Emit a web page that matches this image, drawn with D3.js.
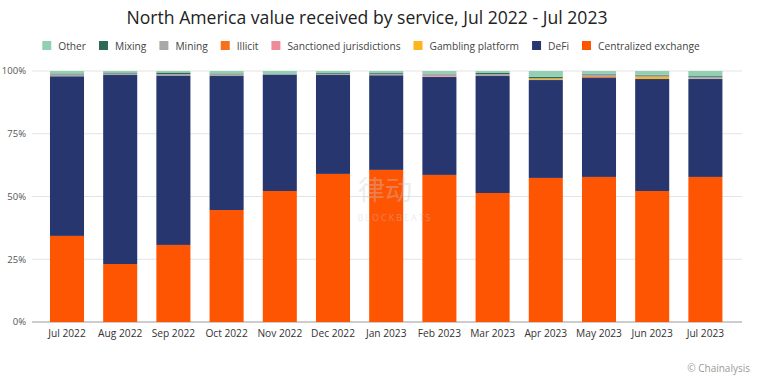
<!DOCTYPE html>
<html>
<head>
<meta charset="utf-8">
<script src="https://cdn.jsdelivr.net/npm/d3@7"></script>
<style>
  body{margin:0;background:#fff;}
  text{font-family:"Open Sans","DejaVu Sans",sans-serif;}
</style>
</head>
<body>
<div id="chart"></div>
<script>
// months on the x axis
var months=['Jul 2022','Aug 2022','Sep 2022','Oct 2022','Nov 2022','Dec 2022','Jan 2023',
            'Feb 2023','Mar 2023','Apr 2023','May 2023','Jun 2023','Jul 2023'];
// share of value received, percent
var centralized=[34.3,23.1,30.7,44.6,52.2,59.0,60.6,58.6,51.4,57.4,57.8,52.2,57.8];
var defi       =[63.6,75.3,67.5,53.4,46.3,39.4,37.7,39.0,46.6,39.0,39.4,44.6,39.0];
var gambling   =[0,   0,   0,   0,   0,   0,   0,   0,   0,   0.5, 0,   0.8, 0.1];
var sanctioned =[0,   0,   0,   0,   0,   0,   0,   0.3, 0,   0,   0,   0,   0];
var illicit    =[0,   0,   0,   0,   0,   0,   0,   0,   0,   0,   0.4, 0,   0];
var mining     =[0.8, 0.6, 0.6, 0.7, 0.2, 0.5, 0.6, 1.0, 0.8, 0.2, 1.0, 0.6, 0.8];
var mixing     =[0.3, 0.4, 0.6, 0.3, 0.1, 0.3, 0.3, 0.1, 0.4, 0.6, 0.3, 0.3, 0.3];
var other      =[1.0, 0.6, 0.6, 1.0, 1.2, 0.8, 0.8, 1.0, 0.8, 2.3, 1.1, 1.5, 2.0];
var yTicks=[0,0.25,0.5,0.75,1];

// series, bottom of the stack first
var series=[
  {key:'Centralized exchange',values:centralized,color:'#fe5502'},
  {key:'DeFi',values:defi,color:'#27366f'},
  {key:'Gambling platform',values:gambling,color:'#fcb51c'},
  {key:'Sanctioned jurisdictions',values:sanctioned,color:'#ee8b98'},
  {key:'Illicit',values:illicit,color:'#f8701e'},
  {key:'Mining',values:mining,color:'#a8a8a8'},
  {key:'Mixing',values:mixing,color:'#2d6a55'},
  {key:'Other',values:other,color:'#93cfb2'}
];

var width=761,height=388;
var margin={top:71,bottom:66,left:32,right:19};
var plotBottom=height-margin.bottom;

var rows=months.map(function(m,i){
  var r={month:m};
  series.forEach(function(s){ r[s.key]=s.values[i]; });
  return r;
});
var stacked=d3.stack()
  .keys(series.map(function(s){return s.key;}))
  .offset(d3.stackOffsetExpand)(rows);

var svg=d3.select('#chart').append('svg')
  .attr('width',width).attr('height',height);

var x=d3.scaleBand().domain(months).range([40.4,732]).paddingInner(0.36).paddingOuter(0.18);
var y=d3.scaleLinear().domain([0,1]).range([plotBottom,margin.top]);

// title
svg.append('text')
  .attr('x',367).attr('y',24)
  .attr('text-anchor','middle')
  .style('font-size','17.6px').style('fill','#222')
  .text('North America value received by service, Jul 2022 - Jul 2023');

// grid + y labels
var yAxis=svg.append('g').attr('class','y-axis');
yAxis.selectAll('line').data(yTicks).enter().append('line')
  .attr('x1',margin.left).attr('x2',width-margin.right)
  .attr('y1',function(d){return y(d);}).attr('y2',function(d){return y(d);})
  .style('stroke',function(d){return d===0?'#9a9a9a':'#e3e3e3';})
  .style('stroke-width',1);
yAxis.selectAll('text').data(yTicks).enter().append('text')
  .attr('x',26).attr('y',function(d){return y(d);})
  .attr('dy','0.35em').attr('text-anchor','end')
  .style('font-size','9.5px').style('fill','#555')
  .text(d3.format('.0%'));

// bars
var layer=svg.append('g').selectAll('g').data(stacked).enter().append('g')
  .style('fill',function(d,i){return series[i].color;});
layer.selectAll('rect').data(function(d){return d;}).enter().append('rect')
  .attr('x',function(d){return x(d.data.month);})
  .attr('width',x.bandwidth())
  .attr('y',function(d){return y(d[1]);})
  .attr('height',function(d){return y(d[0])-y(d[1]);});

// watermark
var wm=svg.append('g').style('opacity',0.35);
wm.append('text').attr('x',385).attr('y',200).attr('text-anchor','middle')
  .style('font-size','27px').style('fill','#c9ccd6').style('font-family','"Noto Sans CJK SC"')
  .text('律动');
wm.append('text').attr('x',395).attr('y',221).attr('text-anchor','middle')
  .style('font-size','9px').style('fill','#c9ccd6').style('letter-spacing','2px')
  .text('BLOCKBEATS');

// x labels
svg.append('g').selectAll('text').data(months).enter().append('text')
  .attr('x',function(d){return x(d)+x.bandwidth()/2;})
  .attr('y',337).attr('text-anchor','middle')
  .style('font-size','10.2px').style('fill','#333')
  .text(function(d){return d;});

// legend, reverse of stack order
var legendItems=series.slice().reverse();
var legend=svg.append('g').attr('class','legend');
var lx=0;
legendItems.forEach(function(s){
  var g=legend.append('g').attr('transform','translate('+lx+',0)');
  g.append('rect').attr('x',0).attr('y',-5).attr('width',9).attr('height',9)
    .style('fill',s.color);
  var t=g.append('text').attr('x',16).attr('y',0).attr('dy','0.35em')
    .style('font-size','10.2px').style('fill','#444').text(s.key);
  lx+=16+t.node().getComputedTextLength()+13;
});
var legendWidth=lx-13;
legend.attr('transform','translate('+(371-legendWidth/2)+',46)');

// credit
svg.append('text').attr('x',750).attr('y',372).attr('text-anchor','end')
  .style('font-size','10px').style('fill','#999')
  .text('© Chainalysis');
</script>
</body>
</html>
